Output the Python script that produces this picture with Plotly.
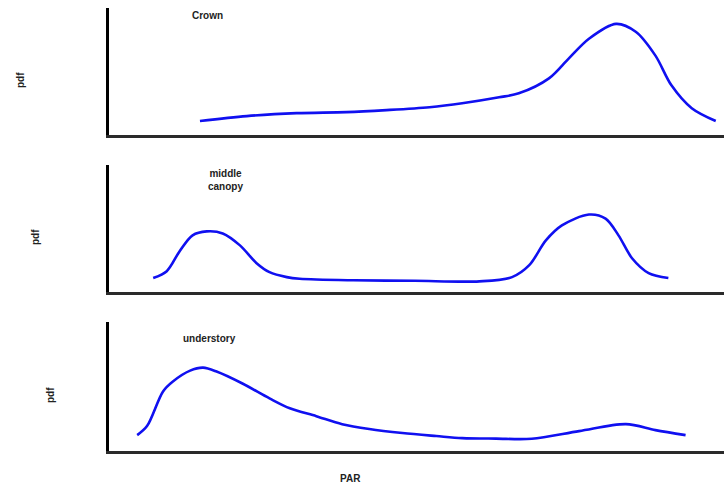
import plotly.graph_objects as go
from plotly.subplots import make_subplots

W, H = 724, 491

# PAR (relative units, 0-100) and pdf (relative height) for each canopy layer
crown_par = [15.1, 22.7, 30.8, 38.9, 45.4, 52.4, 57.7, 63.7, 66.9, 71.8, 75.0,
             78.3, 82.7, 85.9, 89.1, 91.7, 95.0, 98.9]
crown_pdf = [0.102, 0.141, 0.164, 0.172, 0.188, 0.211, 0.242, 0.289, 0.320,
             0.438, 0.594, 0.750, 0.867, 0.805, 0.617, 0.383, 0.203, 0.102]

middle_par = [7.5, 9.7, 11.8, 13.9, 16.2, 18.8, 21.6, 24.3, 26.4, 29.2, 31.3,
              40.0, 50.0, 60.5, 65.8, 68.6, 71.3, 73.9, 78.3, 81.0, 83.1,
              85.3, 88.0, 91.2]
middle_pdf = [0.102, 0.156, 0.313, 0.438, 0.469, 0.453, 0.359, 0.219, 0.148,
              0.109, 0.096, 0.084, 0.080, 0.076, 0.109, 0.203, 0.398, 0.516,
              0.602, 0.570, 0.438, 0.258, 0.141, 0.102]

under_par = [4.9, 6.5, 9.1, 10.7, 13.5, 15.6, 17.8, 22.0, 26.4, 29.7, 34.0,
             38.2, 42.6, 48.0, 53.5, 57.7, 63.2, 69.0, 76.7, 84.3, 89.1, 94.0]
under_pdf = [0.115, 0.185, 0.454, 0.531, 0.615, 0.638, 0.608, 0.515, 0.400,
             0.323, 0.262, 0.200, 0.162, 0.131, 0.108, 0.092, 0.088, 0.087,
             0.146, 0.200, 0.154, 0.115]

panel_titles = ["Crown", "middle<br>canopy", "understory"]
y_label = "pdf"
x_label = "PAR"

series = [(crown_par, crown_pdf), (middle_par, middle_pdf), (under_par, under_pdf)]

# panel placement in pixels: (top, bottom) of each plot area
panels_px = [(8, 135), (165, 292), (322, 451)]
left_px = 108.5


def py(p):
    return 1 - p / H


def px(p):
    return p / W


fig = make_subplots(rows=3, cols=1)

for i, ((xs, ys), (top, bot)) in enumerate(zip(series, panels_px), start=1):
    fig.add_trace(
        go.Scatter(x=xs, y=ys, mode="lines",
                   line=dict(color="#1010f0", width=2.6, shape="spline", smoothing=0.9),
                   showlegend=False, hoverinfo="skip"),
        row=i, col=1)
    xa = "xaxis" if i == 1 else f"xaxis{i}"
    ya = "yaxis" if i == 1 else f"yaxis{i}"
    fig.layout[xa].update(domain=[px(left_px), 1], range=[0.24, 100.24],
                          showline=True, linecolor="#2a2a2a", linewidth=3,
                          showgrid=False, zeroline=False, showticklabels=False,
                          ticks="")
    fig.layout[ya].update(domain=[py(bot), py(top)], range=[-0.008, 0.992],
                          showline=True, linecolor="#000000", linewidth=3,
                          showgrid=False, zeroline=False, showticklabels=False,
                          ticks="")

font = dict(family="Liberation Sans, Arial, sans-serif", size=10, color="#222222")

annotations = []
title_pos = [(207, 16), (226, 180), (209, 338)]
for t, (x0, y0) in zip(panel_titles, title_pos):
    annotations.append(dict(text=f"<b>{t}</b>", x=px(x0), y=py(y0), xref="paper",
                            yref="paper", showarrow=False, font=font,
                            xanchor="center", yanchor="middle"))

pdf_pos = [(20, 80), (35, 237), (50, 395)]
for x0, y0 in pdf_pos:
    annotations.append(dict(text=f"<b>{y_label}</b>", x=px(x0), y=py(y0), xref="paper",
                            yref="paper", showarrow=False, textangle=-90,
                            font=font, xanchor="center", yanchor="middle"))

annotations.append(dict(text=f"<b>{x_label}</b>", x=px(350), y=py(478), xref="paper",
                        yref="paper", showarrow=False, font=font,
                        xanchor="center", yanchor="middle"))

fig.update_layout(width=W, height=H, margin=dict(l=0, r=0, t=0, b=0),
                  paper_bgcolor="white", plot_bgcolor="white",
                  annotations=annotations)

fig.write_html("out.html")
